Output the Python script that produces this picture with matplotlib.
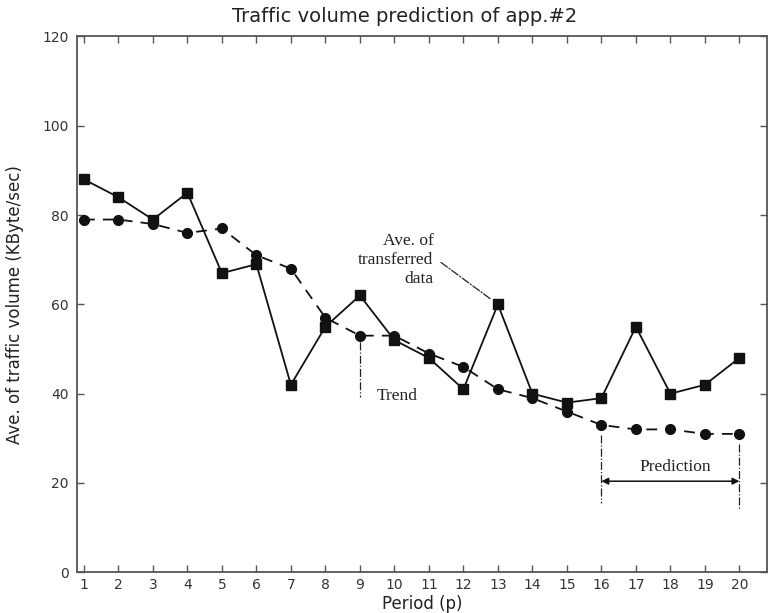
import matplotlib
matplotlib.use('Agg')

import matplotlib.pyplot as plt
import numpy as np

# Average traffic volume per period (KByte/sec)
periods = np.arange(1, 21)
transferred = [88, 84, 79, 85, 67, 69, 42, 55, 62, 52, 48, 41, 60, 40, 38, 39, 55, 40, 42, 48]
trend = [79, 79, 78, 76, 77, 71, 68, 57, 53, 53, 49, 46, 41, 39, 36, 33, 32, 32, 31, 31]

pred_start, pred_end = 16, 20

SERIF = ['Liberation Serif', 'DejaVu Serif']

fig = plt.figure(figsize=(7.69, 6.13), dpi=100)
ax = fig.add_axes([0.1001, 0.0664, 0.8973, 0.8741])

ax.plot(periods, transferred, color='#111111', linestyle='-', linewidth=1.3,
        marker='s', markersize=7, zorder=3)
ax.plot(periods, trend, color='#111111', linestyle=(0, (6, 4.5)), linewidth=1.3,
        marker='o', markersize=7, zorder=3)

ax.set_xlim(0.8, 20.8)
ax.set_ylim(0, 120)
ax.set_xticks(periods)
ax.set_yticks(np.arange(0, 121, 20))

ax.tick_params(direction='in', top=True, right=True, length=5, width=1,
               labelsize=10, labelcolor='#333333', color='#555555')
ax.tick_params(axis='x', pad=4)
ax.tick_params(axis='y', pad=6)
for side in ax.spines.values():
    side.set_color('#555555')
    side.set_linewidth(1.3)

ax.set_xlabel('Period (p)', fontsize=12, color='#222222')
ax.xaxis.set_label_coords(0.5, -0.043)
ax.set_ylabel('Ave. of traffic volume (KByte/sec)', fontsize=12, color='#222222')
ax.yaxis.set_label_coords(-0.077, 0.5)

fig.text(405 / 769, 1 - 16 / 613, 'Traffic volume prediction of app.#2',
         ha='center', va='center', fontsize=14, color='#222222')

# annotation for the measured series
ax.text(11.13, 69.9, 'Ave. of\ntransferred\ndata', ha='right', va='center',
        fontsize=12.5, family=SERIF, color='#222222', linespacing=1.25)
ax.annotate('', xy=(13, transferred[12]), xytext=(11.35, 69.4),
            arrowprops=dict(arrowstyle='-', linestyle='-.', color='#222222',
                            linewidth=0.9, shrinkA=0, shrinkB=6))

# annotation for the trend series
ax.plot([9, 9], [trend[8] - 1.5, 39.3], color='#222222', linestyle='-.', linewidth=0.9)
ax.text(9.5, 39.4, 'Trend', ha='left', va='center', fontsize=12.5,
        family=SERIF, color='#222222')

# prediction window
ax.plot([pred_start, pred_start], [trend[pred_start - 1] - 2.3, 15.5],
        color='#222222', linestyle='-.', linewidth=0.9)
ax.plot([pred_end, pred_end], [trend[pred_end - 1] - 2.3, 14.2],
        color='#222222', linestyle='-.', linewidth=0.9)
ax.annotate('', xy=(pred_end, 20.4), xytext=(pred_start, 20.4),
            arrowprops=dict(arrowstyle='<|-|>', color='#111111', linewidth=1.1,
                            mutation_scale=10, shrinkA=0, shrinkB=0))
ax.text((pred_start + pred_end) / 2 + 0.15, 23.6, 'Prediction', ha='center',
        va='center', fontsize=12.5, family=SERIF, color='#222222')

fig.savefig('out.png', dpi=100)
